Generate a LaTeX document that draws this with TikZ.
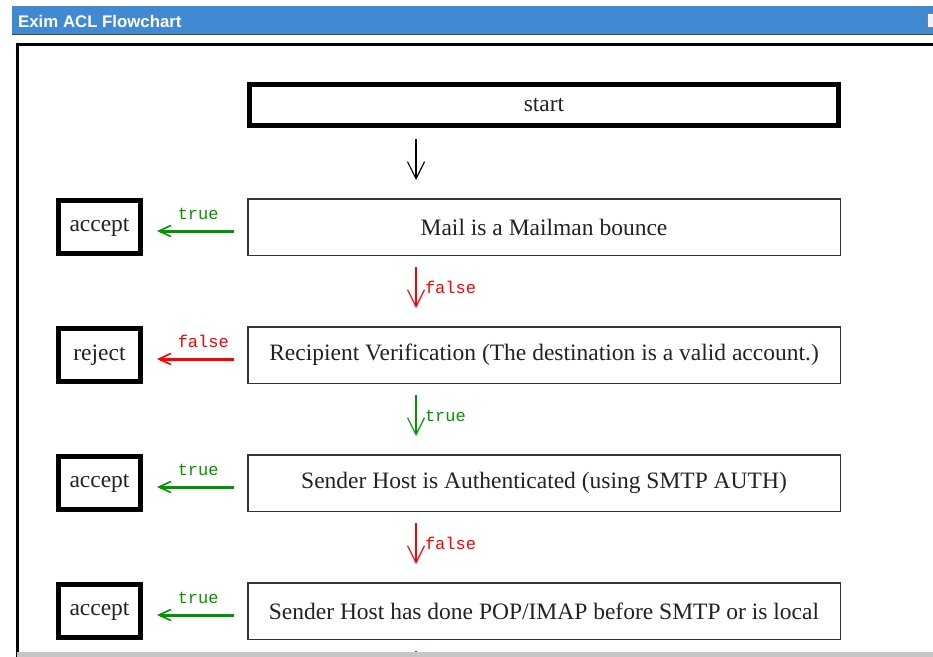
\documentclass[tikz,border=0pt]{standalone}
\usepackage{fontspec}
\setmainfont{Liberation Serif}
\newfontfamily\labelfont{Liberation Mono}
\newfontfamily\barfont{Liberation Sans}
\usetikzlibrary{arrows.meta, positioning}
\definecolor{barblue}{RGB}{66, 137, 212}
\definecolor{truegreen}{RGB}{0, 150, 0}
\definecolor{falsered}{RGB}{255, 0, 0}
\definecolor{boxtext}{RGB}{34, 34, 34}

\begin{document}
\begin{tikzpicture}[
    x=1pt, y=-1pt,
    node distance=70pt and 104pt,
    startbox/.style={rectangle, draw=black, line width=5pt, minimum width=589pt, minimum height=41pt, text=boxtext, font=\fontsize{23.5}{28}\selectfont},
    condbox/.style={rectangle, draw=black!80, line width=1.5pt, minimum width=592.5pt, minimum height=56.5pt, text=boxtext, font=\fontsize{23.5}{28}\selectfont},
    endbox/.style={rectangle, draw=black, line width=5pt, minimum width=82pt, minimum height=53pt, text=boxtext, font=\fontsize{23.5}{28}\selectfont},
    varrow/.style={-{Straight Barb[length=17pt, width=17pt, line width=1.2pt]}, line width=2pt},
    harrow/.style={-{Straight Barb[length=12pt, width=11pt, line width=1.6pt]}, line width=3pt},
    vlabel/.style={midway, right, inner sep=0pt, xshift=8pt, font=\labelfont\fontsize{17}{20}\selectfont},
    hlabel/.style={pos=0.75, anchor=south west, inner sep=0pt, yshift=10pt, font=\labelfont\fontsize{17}{20}\selectfont}
]
    \useasboundingbox (0,0) rectangle (933,656);

    % Title bar
    \fill[barblue] (12,6) rectangle (940,35);
    \draw[black!70, line width=1pt] (12,34.5) -- (940,34.5);
    \node[anchor=base west, inner sep=0pt, text=white, font=\barfont\bfseries\fontsize{16.8}{20}\selectfont] (title) at (18,27) {Exim ACL Flowchart};
    \draw[gray, fill=blue!5] (927,13) rectangle (940,27);

    % Frame
    \draw[line width=3pt] (17.5,660) -- (17.5,44) -- (940,44);

    % Start
    \node[startbox] (start) at (544,105) {start};

    % Conditions
    \node[condbox, below=of start] (mailman) {Mail is a Mailman bounce};
    \node[condbox, below=of mailman] (verify) {Recipient Verification (The destination is a valid account.)};
    \node[condbox, below=of verify] (auth) {Sender Host is Authenticated (using SMTP AUTH)};
    \node[condbox, below=of auth] (popimap) {Sender Host has done POP/IMAP before SMTP or is local};

    % Results
    \node[endbox, left=of mailman] (accept1) {accept};
    \node[endbox, left=of verify] (reject1) {reject};
    \node[endbox, left=of auth] (accept2) {accept};
    \node[endbox, left=of popimap] (accept3) {accept};

    \coordinate (cut) at (416,656);

    % Arrows down
    \draw[varrow] ([xshift=-128pt, yshift=-11pt]start.south) -- ([xshift=-128pt, yshift=18pt]mailman.north);
    \draw[varrow, falsered] ([xshift=-128pt, yshift=-11pt]mailman.south) -- ([xshift=-128pt, yshift=18pt]verify.north) node[vlabel] {false};
    \draw[varrow, truegreen] ([xshift=-128pt, yshift=-11pt]verify.south) -- ([xshift=-128pt, yshift=18pt]auth.north) node[vlabel] {true};
    \draw[varrow, falsered] ([xshift=-128pt, yshift=-11pt]auth.south) -- ([xshift=-128pt, yshift=18pt]popimap.north) node[vlabel] {false};
    \draw[falsered, line width=2pt] ([xshift=-128pt, yshift=-11pt]popimap.south) -- (cut);

    % Arrows left
    \draw[harrow, truegreen] ([xshift=-13pt, yshift=-4pt]mailman.west) -- ([xshift=14pt, yshift=-4pt]accept1.east) node[hlabel] {true};
    \draw[harrow, falsered] ([xshift=-13pt, yshift=-4pt]verify.west) -- ([xshift=14pt, yshift=-4pt]reject1.east) node[hlabel] {false};
    \draw[harrow, truegreen] ([xshift=-13pt, yshift=-4pt]auth.west) -- ([xshift=14pt, yshift=-4pt]accept2.east) node[hlabel] {true};
    \draw[harrow, truegreen] ([xshift=-13pt, yshift=-4pt]popimap.west) -- ([xshift=14pt, yshift=-4pt]accept3.east) node[hlabel] {true};

    % Bottom edge
    \fill[gray!45] (17,652) rectangle (940,660);
\end{tikzpicture}
\end{document}
